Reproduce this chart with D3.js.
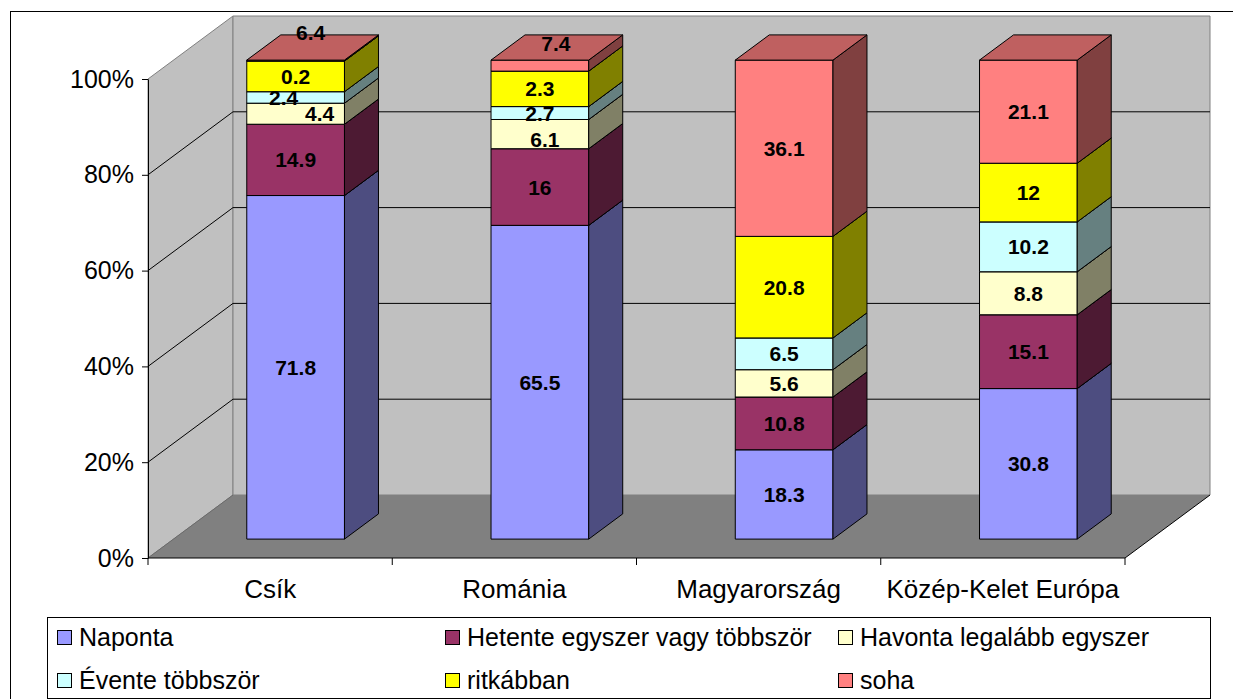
<!DOCTYPE html>
<html>
<head>
<meta charset="utf-8">
<script src="https://cdn.jsdelivr.net/npm/d3@7"></script>
<style>
  body { margin: 0; background: #fff; }
  svg { display: block; font-family: "Liberation Sans", Arial, sans-serif; }
</style>
</head>
<body>
<svg width="1233" height="699"></svg>
<script>
// categories and series (stacked to 100%)
var categories = ["Csík", "Románia", "Magyarország", "Közép-Kelet Európa"];
var seriesNames = ["Naponta", "Hetente egyszer vagy többször", "Havonta legalább egyszer",
                   "Évente többször", "ritkábban", "soha"];
var naponta   = [71.8, 65.5, 18.3, 30.8];
var hetente   = [14.9, 16, 10.8, 15.1];
var havonta   = [4.4, 6.1, 5.6, 8.8];
var evente    = [2.4, 2.7, 6.5, 10.2];
var ritkabban = [6.4, 7.4, 20.8, 12];
var soha      = [0.2, 2.3, 36.1, 21.1];
// label text as printed on the chart (the first two bars show ritkábban/soha labels swapped)
var ritkabbanLabels = ["0.2", "2.3", "20.8", "12"];
var sohaLabels      = ["6.4", "7.4", "36.1", "21.1"];
var yTicks = [0, 0.2, 0.4, 0.6, 0.8, 1];

var colors = ["#9999FF", "#993366", "#FFFFCC", "#CCFFFF", "#FFFF00", "#FF8080"];

var svg = d3.select("svg");

// small nudges for labels that would collide (category index - series index)
var nudge = {"0-3": [-12, 0], "0-2": [24, 0], "0-5": [15, -28], "1-5": [16, -22], "1-2": [5, 5]};

var DX = 85, DY = -63;       // depth of the floor
var zf = 0.3, zd = 0.4;      // bar front position and depth (fraction of floor depth)

var x = d3.scaleBand().domain(categories).range([148, 1125]);
var y = d3.scaleLinear().domain([0, 1]).range([558, 79]);

function shade(c, k) {
  var r = d3.rgb(c);
  return d3.rgb(r.r * k, r.g * k, r.b * k).formatHex();
}

// data table built from the arrays
var values = [naponta, hetente, havonta, evente, ritkabban, soha];
var table = categories.map(function(c, i) {
  var row = {cat: c};
  seriesNames.forEach(function(s, j) { row[s] = values[j][i]; });
  return row;
});
var labelText = [naponta, hetente, havonta, evente, ritkabbanLabels, sohaLabels]
  .map(function(a) { return a.map(String); });

var stack = d3.stack().keys(seriesNames).offset(d3.stackOffsetExpand);
var layers = stack(table);

// outer border
svg.append("rect")
    .attr("x", 10.5).attr("y", 11.5)
    .attr("width", 1240).attr("height", 700)
    .attr("fill", "#fff").attr("stroke", "#000");

// walls and floor
var y0 = y(0), y1 = y(1), xl = x.range()[0], xr = x.range()[1];
svg.append("polygon")
    .attr("points", [[xl, y0], [xl, y1], [xl + DX, y1 + DY], [xl + DX, y0 + DY]].join(" "))
    .attr("fill", "#c0c0c0").attr("stroke", "#808080");
svg.append("polygon")
    .attr("points", [[xl + DX, y0 + DY], [xl + DX, y1 + DY], [xr + DX, y1 + DY], [xr + DX, y0 + DY]].join(" "))
    .attr("fill", "#c0c0c0").attr("stroke", "#808080");
svg.append("polygon")
    .attr("points", [[xl, y0], [xr, y0], [xr + DX, y0 + DY], [xl + DX, y0 + DY]].join(" "))
    .attr("fill", "#808080").attr("stroke", "none");
svg.append("line")
    .attr("x1", xr).attr("y1", y0).attr("x2", xr + DX).attr("y2", y0 + DY)
    .attr("stroke", "#000");
svg.append("line")
    .attr("x1", xl).attr("y1", y0).attr("x2", xl + DX).attr("y2", y0 + DY)
    .attr("stroke", "#6a6a6a");

// gridlines
svg.append("g").selectAll("polyline")
    .data(yTicks.filter(function(t) { return t > 0 && t < 1; }))
    .enter().append("polyline")
    .attr("points", function(t) {
      return [[xl, y(t)], [xl + DX, y(t) + DY], [xr + DX, y(t) + DY]].join(" ");
    })
    .attr("fill", "none").attr("stroke", "#000");

// bars
var bw = x.bandwidth() * 0.4;
var bars = svg.append("g");
categories.forEach(function(c, i) {
  var left = x(c) + (x.bandwidth() - bw) / 2 + zf * DX;
  var right = left + bw;
  var ddx = zd * DX, ddy = zd * DY;
  layers.forEach(function(layer, j) {
    var d = layer[i];
    var yb = y(d[0]) + zf * DY, yt = y(d[1]) + zf * DY;
    var g = bars.append("g").attr("stroke", "#000").attr("stroke-linejoin", "round");
    g.append("rect")
        .attr("x", left).attr("y", yt)
        .attr("width", bw).attr("height", yb - yt)
        .attr("fill", colors[j]);
    g.append("polygon")
        .attr("points", [[right, yb], [right + ddx, yb + ddy], [right + ddx, yt + ddy], [right, yt]].join(" "))
        .attr("fill", shade(colors[j], 0.5));
    g.append("polygon")
        .attr("points", [[left, yt], [right, yt], [right + ddx, yt + ddy], [left + ddx, yt + ddy]].join(" "))
        .attr("fill", shade(colors[j], 0.75));
  });
});

// data labels
var labels = svg.append("g")
    .attr("font-size", 21).attr("font-weight", "bold")
    .attr("text-anchor", "middle");
categories.forEach(function(c, i) {
  var left = x(c) + (x.bandwidth() - bw) / 2 + zf * DX;
  layers.forEach(function(layer, j) {
    var d = layer[i];
    var n = nudge[i + "-" + j] || [0, 0];
    var cy = (y(d[0]) + y(d[1])) / 2 + zf * DY;
    labels.append("text")
        .attr("x", left + bw / 2 + n[0])
        .attr("y", cy + n[1])
        .attr("dy", "0.36em")
        .text(labelText[j][i]);
  });
});

// y axis
var yAxis = svg.append("g")
    .attr("transform", "translate(" + xl + ",0)")
    .call(d3.axisLeft(y).tickValues(yTicks).tickFormat(d3.format(".0%")).tickSizeOuter(0).tickPadding(8));
yAxis.selectAll("text").attr("font-size", 25).attr("font-family", "Liberation Sans, Arial, sans-serif").attr("fill", "#000");
yAxis.selectAll("line, path").attr("stroke", "#000");

// x axis: line, boundary ticks, centered labels
var xg = svg.append("g").attr("transform", "translate(0," + y0 + ")");
xg.append("line").attr("x1", xl).attr("x2", xr).attr("stroke", "#000");
xg.selectAll(".tk")
    .data(categories.map(function(c) { return x(c); }).concat([xr]))
    .enter().append("line")
    .attr("x1", function(d) { return d; }).attr("x2", function(d) { return d; })
    .attr("y1", 0).attr("y2", 7).attr("stroke", "#000");
xg.selectAll(".cat")
    .data(categories)
    .enter().append("text")
    .attr("x", function(d) { return x(d) + x.bandwidth() / 2; })
    .attr("y", 40)
    .attr("text-anchor", "middle")
    .attr("font-size", 26)
    .text(function(d) { return d; });

// legend
svg.append("rect")
    .attr("x", 47.5).attr("y", 617.5)
    .attr("width", 1163).attr("height", 81)
    .attr("fill", "#fff").attr("stroke", "#000");
var colX = [57, 445, 838];
var legend = svg.append("g").selectAll("g")
    .data(seriesNames)
    .enter().append("g")
    .attr("transform", function(d, k) {
      return "translate(" + colX[k % 3] + "," + (637 + Math.floor(k / 3) * 43) + ")";
    });
legend.append("rect")
    .attr("x", 0.5).attr("y", -6.5)
    .attr("width", 14).attr("height", 14)
    .attr("fill", function(d, k) { return colors[k]; })
    .attr("stroke", "#000");
legend.append("text")
    .attr("x", 22).attr("y", 0).attr("dy", "0.36em")
    .attr("font-size", 25)
    .text(function(d) { return d; });
</script>
</body>
</html>
